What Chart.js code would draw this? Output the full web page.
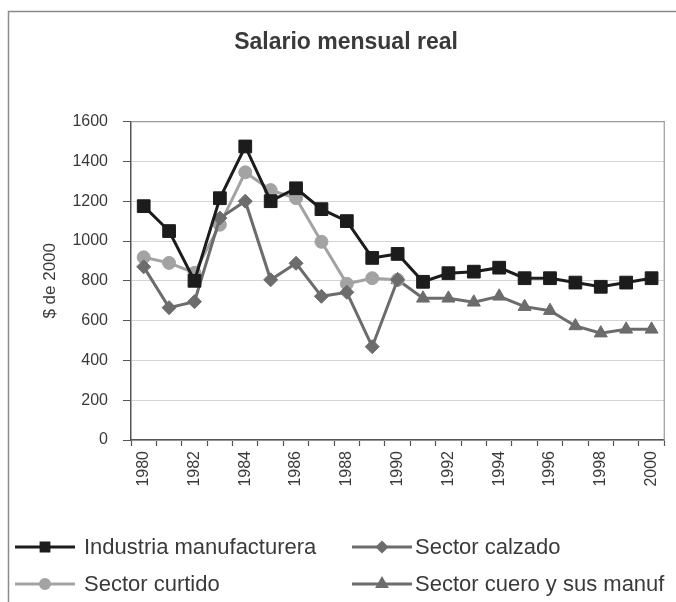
<!DOCTYPE html>
<html>
<head>
<meta charset="utf-8">
<title>Salario mensual real</title>
<script src="https://cdn.jsdelivr.net/npm/chart.js"></script>
<style>
  html, body { margin: 0; padding: 0; background: #fff; }
  #wrap { width: 676px; height: 602px; }
</style>
</head>
<body>
<div id="wrap"><canvas id="chart" width="676" height="602"></canvas></div>
<script>
const years = ['1980', '1981', '1982', '1983', '1984', '1985', '1986', '1987', '1988', '1989', '1990',
  '1991', '1992', '1993', '1994', '1995', '1996', '1997', '1998', '1999', '2000'];

const industria = [1175, 1050, 800, 1215, 1475, 1200, 1265, 1160, 1100, 915, 935,
  795, 838, 846, 866, 813, 813, 791, 770, 791, 813];
const calzado = [870, 665, 695, 1115, 1200, 805, 888, 722, 742, 469, 805,
  null, null, null, null, null, null, null, null, null, null];
const curtido = [918, 890, 840, 1082, 1345, 1256, 1215, 996, 785, 813, 805,
  null, null, null, null, null, null, null, null, null, null];
const cuero = [null, null, null, null, null, null, null, null, null, null, 805,
  712, 712, 692, 722, 670, 650, 573, 537, 556, 556];

const yTicks = [0, 200, 400, 600, 800, 1000, 1200, 1400, 1600];

const FONT = '"Liberation Sans", Arial, sans-serif';
const TXT = '#3a3a3a';

// outer chart frame + plot area frame
const frame = {
  id: 'frame',
  beforeDraw(chart) {
    const ctx = chart.ctx;
    ctx.save();
    ctx.strokeStyle = '#8a8a8a';
    ctx.lineWidth = 1.5;
    ctx.strokeRect(8.5, 11.5, 800, 800);
    ctx.restore();
  },
  beforeDatasetsDraw(chart) {
    const a = chart.chartArea, ctx = chart.ctx;
    ctx.save();
    ctx.strokeStyle = '#9a9a9a';
    ctx.lineWidth = 1.2;
    ctx.beginPath();
    ctx.moveTo(a.left, a.top);
    ctx.lineTo(a.right, a.top);
    ctx.lineTo(a.right, a.bottom);
    ctx.stroke();
    ctx.restore();
  }
};

// 2x2 legend like the Excel one
const legendRadius = [5.5, 4.5, 4.5, 5];
const gridLegend = {
  id: 'gridLegend',
  afterDraw(chart) {
    const ctx = chart.ctx;
    const lineX = [15, 352];
    const textX = [84, 415];
    const rowY = [547, 584];
    chart.data.datasets.forEach((ds, i) => {
      const c = i % 2, r = Math.floor(i / 2);
      const x = lineX[c], y = rowY[r];
      ctx.save();
      ctx.strokeStyle = ds.borderColor;
      ctx.lineWidth = 3;
      ctx.beginPath();
      ctx.moveTo(x, y);
      ctx.lineTo(x + 60, y);
      ctx.stroke();
      ctx.fillStyle = ds.pointBackgroundColor;
      ctx.strokeStyle = ds.pointBorderColor;
      Chart.helpers.drawPoint(ctx, { pointStyle: ds.pointStyle, radius: legendRadius[i], borderWidth: 1, rotation: 0 }, x + 30, y);
      ctx.fillStyle = TXT;
      ctx.font = '22px ' + FONT;
      ctx.textBaseline = 'middle';
      ctx.textAlign = 'left';
      ctx.fillText(ds.label, textX[c], y + 1);
      ctx.restore();
    });
  }
};

function series(label, data, color, style, radius) {
  return {
    label, data,
    borderColor: color,
    backgroundColor: color,
    pointBackgroundColor: color,
    pointBorderColor: color,
    pointBorderWidth: 1,
    pointStyle: style,
    pointRadius: radius,
    pointHoverRadius: radius,
    borderWidth: 3,
    tension: 0,
    spanGaps: false
  };
}

new Chart(document.getElementById('chart'), {
  type: 'line',
  data: {
    labels: years,
    datasets: [
      series('Industria manufacturera', industria, '#1c1c1c', 'rect', 9),
      series('Sector calzado', calzado, '#6c6c6c', 'rectRot', 7),
      series('Sector curtido', curtido, '#a3a3a3', 'circle', 6.5),
      series('Sector cuero y sus manuf', cuero, '#6c6c6c', 'triangle', 7.5)
    ]
  },
  options: {
    responsive: false,
    animation: false,
    layout: { padding: { top: 0, left: 26, right: 10, bottom: 102 } },
    plugins: {
      legend: { display: false },
      tooltip: { enabled: false },
      title: {
        display: true,
        text: 'Salario mensual real',
        color: TXT,
        font: { family: FONT, size: 23, weight: 'bold' },
        padding: { top: 29, bottom: 65 }
      }
    },
    scales: {
      x: {
        offset: true,
        grid: { offset: true, drawOnChartArea: false, tickLength: 6, tickColor: '#555', tickWidth: 1.2 },
        border: { color: '#555', width: 1.5 },
        ticks: {
          autoSkip: false,
          minRotation: 90,
          maxRotation: 90,
          padding: 5,
          color: TXT,
          font: { family: FONT, size: 16 },
          callback: (v, i) => (i % 2 === 0 ? years[i] : '')
        },
        afterFit: s => { s.height = 60; }
      },
      y: {
        min: 0,
        max: 1600,
        afterBuildTicks: s => { s.ticks = yTicks.map(v => ({ value: v })); },
        grid: { color: '#d4d4d4', tickColor: '#555', tickLength: 8, lineWidth: 1 },
        border: { color: '#555', width: 1.5 },
        ticks: {
          padding: 15,
          color: TXT,
          font: { family: FONT, size: 16 },
          callback: v => String(v)
        },
        title: {
          display: true,
          text: '$ de 2000',
          color: TXT,
          font: { family: FONT, size: 17 },
          padding: { top: 14, bottom: 0 }
        },
        afterFit: s => { s.width = 105; }
      }
    }
  },
  plugins: [frame, gridLegend]
});
</script>
</body>
</html>
